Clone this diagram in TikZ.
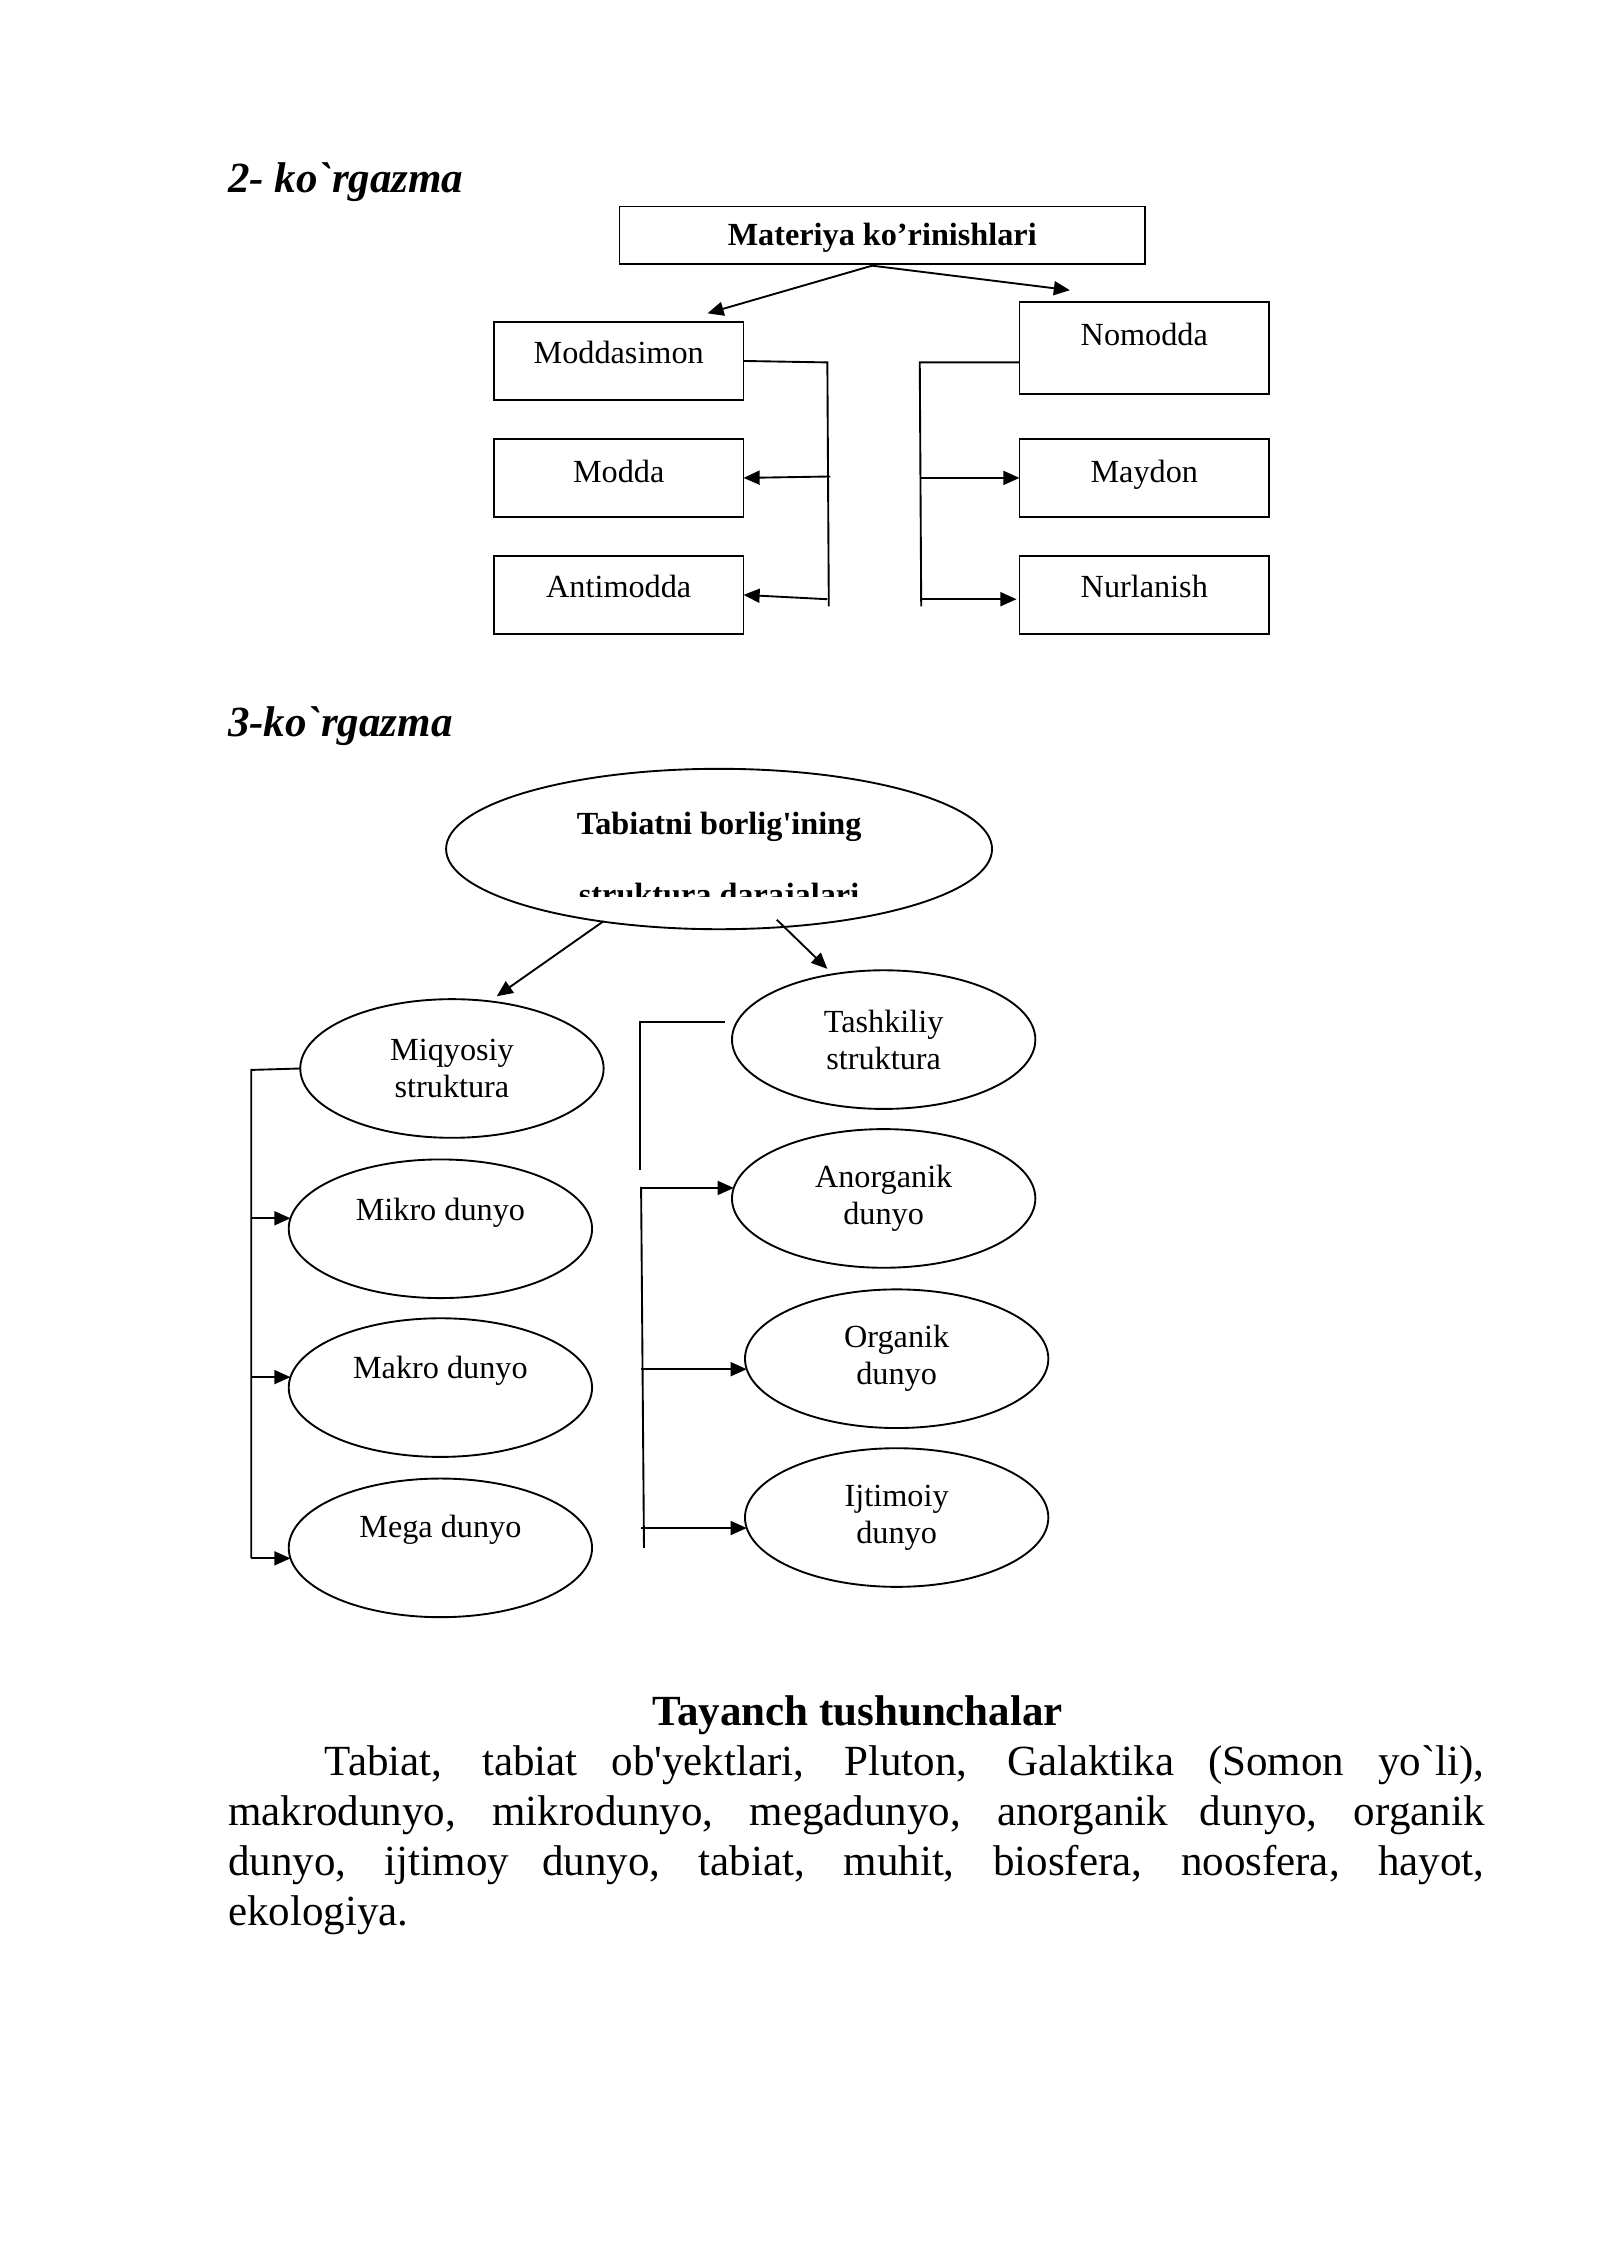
\documentclass[tikz,border=0pt]{standalone}
\usepackage{fontspec}
\setmainfont{Liberation Serif}
\usetikzlibrary{arrows.meta,shapes.geometric}
\begin{document}
\begin{tikzpicture}[x=0.5374pt,y=-0.5374pt,
 every node/.style={inner sep=0pt,outer sep=0pt},
 ln/.style={line width=0.7pt},
 arr/.style={line width=0.7pt,-{Triangle[length=6pt,width=5.2pt]}},
 rbox/.style={draw,line width=0.7pt,minimum width=92.9pt,minimum height=29pt},
 ell/.style={draw,ellipse,line width=0.7pt,minimum width=112.9pt,minimum height=51.6pt,align=center,font=\fontsize{12}{13.8}\selectfont},
 lab/.style={font=\fontsize{12}{13.8}\selectfont,anchor=base},
 blab/.style={font=\fontsize{12}{13.8}\selectfont\bfseries,anchor=base},
 head/.style={font=\fontsize{16}{19}\selectfont\bfseries\itshape,anchor=base west},
]
\useasboundingbox (0,0) rectangle (1107.8,1566.6);

% ---------- 2- ko`rgazma ----------
\node[head] (h2) at (158,133) {2- ko\textasciigrave rgazma};
\node[rbox,minimum width=195.6pt,minimum height=21.5pt] (mat) at (611,163) {};
\node[blab] (matT) at (611,170) {Materiya ko’rinishlari};

\node[rbox] (mds) at (428.5,250) {};
\node[lab] (mdsT) at (428.5,252) {Moddasimon};
\node[rbox,minimum height=34.4pt] (nom) at (792.5,241) {};
\node[lab] (nomT) at (792.5,239) {Nomodda};
\node[rbox] (mod) at (428.5,331) {};
\node[lab] (modT) at (428.5,334) {Modda};
\node[rbox] (may) at (792.5,331) {};
\node[lab] (mayT) at (792.5,334) {Maydon};
\node[rbox] (ant) at (428.5,412) {};
\node[lab] (antT) at (428.5,414) {Antimodda};
\node[rbox] (nur) at (792.5,412) {};
\node[lab] (nurT) at (792.5,414) {Nurlanish};

\coordinate (fork) at (604,184);
\coordinate (tipL) at (490,217);
\coordinate (tipR) at (741,201);
\draw[arr] (fork) -- (tipL);
\draw[arr] (fork) -- (tipR);

\coordinate (lbT) at (573,251);
\coordinate (lbB) at (574,420);
\draw[ln] (mds.east) -- (lbT) -- (lbB);
\coordinate (lbM) at (575,330);
\draw[arr] (lbM) -- (mod.east);
\coordinate (lbA) at (573,415);
\draw[arr] (lbA) -- (ant.east);

\coordinate (rbT) at (637,251);
\coordinate (rbB) at (638,420);
\draw[ln] (nom.west |- rbT) -- (rbT) -- (rbB);
\coordinate (rbM) at (637,331);
\draw[arr] (rbM) -- (may.west);
\coordinate (rbN) at (638,415);
\coordinate (rbNt) at (704,415);
\draw[arr] (rbN) -- (rbNt);

% ---------- 3-ko`rgazma ----------
\node[head] (h3) at (158,510) {3-ko\textasciigrave rgazma};
\node[draw,ellipse,ln,minimum width=203.2pt,minimum height=59.7pt] (big) at (498,588) {};
\node[blab] (bigT1) at (498,578) {Tabiatni borlig\textquotesingle ining};
\begin{scope}
\clip (350,590) rectangle (650,621);
\node[blab] (bigT2) at (498,627) {struktura darajalari};
\end{scope}

\coordinate (bA) at (418,638);
\coordinate (bAt) at (344,690);
\draw[arr] (bA) -- (bAt);
\coordinate (bB) at (538,637);
\coordinate (bBt) at (573,671);
\draw[arr] (bB) -- (bBt);

\node[ell] (miq) at (313,740) {Miqyosiy\\struktura};
\node[ell] (tash) at (612,720) {Tashkiliy\\struktura};
\node[ell] (mik) at (305,851) {};
\node[lab] (mikT) at (305,845) {Mikro dunyo};
\node[ell] (mak) at (305,961) {};
\node[lab] (makT) at (305,955) {Makro dunyo};
\node[ell] (meg) at (305,1072) {};
\node[lab] (megT) at (305,1065) {Mega dunyo};
\node[ell] (anor) at (612,830) {Anorganik\\dunyo};
\node[ell] (org) at (621,941) {Organik\\dunyo};
\node[ell] (ijt) at (621,1051) {Ijtimoiy\\dunyo};

\coordinate (L3t) at (174,741);
\coordinate (L3b) at (174,1079);
\draw[ln] (miq.west) -- (L3t) -- (L3b);
\draw[arr] (L3t |- mik.176) -- (mik.176);
\draw[arr] (L3t |- mak.176) -- (mak.176);
\draw[arr] (L3t |- meg.184) -- (meg.184);

\coordinate (R3a) at (502,708);
\coordinate (R3b) at (443,708);
\coordinate (R3c) at (443,810);
\draw[ln] (R3a) -- (R3b) -- (R3c);
\coordinate (R3d) at (444,822);
\coordinate (R3e) at (446,1072);
\draw[ln] (R3d) -- (R3e);
\draw[arr] (R3d |- anor.176) -- (anor.176);
\draw[arr] (R3d |- org.184) -- (org.184);
\draw[arr] (R3d |- ijt.184) -- (ijt.184);

% ---------- Tayanch tushunchalar ----------
\node[font=\fontsize{16}{19}\selectfont\bfseries,anchor=base] (tay) at (594,1195) {Tayanch tushunchalar};
\node[anchor=north west,text width=467.6pt,align=justify,font=\fontsize{16}{18.57}\selectfont] (par) at (158,1209)
{\hyphenpenalty=10000\exhyphenpenalty=10000\tolerance=9999\emergencystretch=3em
\hspace*{36pt}Tabiat, tabiat ob\textquotesingle yektlari, Pluton, Galaktika (Somon yo\textasciigrave li),\linebreak
makrodunyo, mikrodunyo, megadunyo, anorganik dunyo, organik\linebreak
dunyo, ijtimoy dunyo, tabiat, muhit, biosfera, noosfera, hayot,\linebreak
ekologiya.};
\end{tikzpicture}
\end{document}
